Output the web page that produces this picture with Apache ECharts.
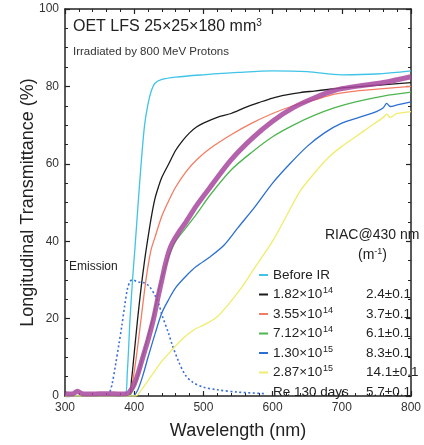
<!DOCTYPE html>
<html>
<head>
<meta charset="utf-8">
<script src="https://cdn.jsdelivr.net/npm/echarts@6/dist/echarts.min.js"></script>
<style>
html,body{margin:0;padding:0;background:#fff;}
#chart{width:424px;height:445px;}
</style>
</head>
<body>
<div id="chart"></div>
<script>
// ---- data: [wavelength (nm), transmittance (%)] ----
const beforeIR = [[300,0],[386,0],[390,6],[394,20],[398,31],[401,38],[405,48],[410,60],[415,70],[420,75.5],[425,79],[430,80.8],[440,81.8],[460,82.4],[500,83],[550,83.6],[600,84],[650,83.8],[700,83],[750,83.2],[800,84]];
const dose182e14 = [[300,0],[392,0],[396,4],[400,11],[405,20],[410,28],[415,35],[420,41],[425,46.5],[430,51],[435,54],[440,56.5],[450,60],[460,63.5],[470,66],[480,68],[490,69.5],[500,70.5],[520,72],[540,73],[560,74.5],[580,75.8],[600,77],[620,77.8],[640,78.4],[660,78.8],[680,79.2],[700,79.6],[750,80.3],[800,81]];
const dose355e14 = [[300,0],[392,0],[397,3],[403,10],[410,20],[417,30],[424,37.5],[430,41],[440,46.5],[450,50.5],[460,54],[475,58],[490,61],[510,64],[540,67.5],[570,70.5],[600,73],[630,75],[660,76.5],[690,78],[720,78.8],[760,79.4],[800,80]];
const dose712e14 = [[300,0],[392,0],[398,1.5],[405,5],[412,10],[420,15.5],[428,21],[435,27],[440,30.5],[450,36],[460,40],[475,43.5],[490,47],[510,52],[540,58.4],[570,63],[600,67],[630,70],[660,72.5],[690,74.5],[720,76],[760,77.5],[800,78.5]];
const dose130e15 = [[300,0],[398,0],[405,1.5],[412,5],[420,10],[430,16],[440,21.5],[450,25],[460,28],[475,31],[490,33.5],[510,36],[530,39],[550,43.5],[575,49],[600,55],[625,60],[650,64.5],[675,68],[700,70.5],[725,72],[750,73.5],[760,74.5],[765,75.6],[770,74.8],[780,75.2],[800,76]];
const dose287e15 = [[300,0],[402,0],[410,1.5],[420,4],[430,6.5],[440,9],[450,11],[460,13],[470,14.8],[480,16.3],[490,17.5],[500,18.3],[520,20.5],[540,24.5],[555,28],[570,32],[585,36],[600,40],[620,46.5],[640,53],[660,57.5],[680,61.5],[700,64.5],[720,67],[740,69.5],[760,72],[765,72.8],[770,72],[780,73],[800,73.5]];
const re130days = [[300,0.6],[310,0.5],[318,1.2],[325,0.6],[340,0.5],[360,0.6],[380,0.5],[390,0.6],[395,1.5],[400,3],[405,5.5],[410,8.5],[415,11.5],[420,14.5],[428,20],[435,26],[440,30],[445,34],[450,37.3],[455,39.5],[465,42.5],[475,45],[490,49.2],[510,54],[540,61],[570,66.5],[600,71],[630,74.5],[660,77],[690,79],[720,80],[760,81],[800,82.5]];
const emission = [[363,0],[368,3],[373,8],[378,13.5],[382,18],[386,23],[390,27.5],[394,29.6],[398,30],[405,29.5],[415,29.2],[422,28.3],[430,26],[436,23.5],[440,21],[450,16],[455,13.2],[464,9],[474,5.4],[485,3.5],[500,2.3],[520,1.6],[550,1],[590,0.6]];

// legend labels
const seriesNames = ['Before IR','1.82e14','3.55e14','7.12e14','1.30e15','2.87e15','Re 130 days'];
const legendMantissa = ['Before IR','1.82×10','3.55×10','7.12×10','1.30×10','2.87×10','Re 130 days'];
const legendExp = ['','14','14','14','15','15',''];
const riacValues = ['','2.4±0.1','3.7±0.1','6.1±0.1','8.3±0.1','14.1±0.1','5.7±0.1'];
const xTicks = [300,400,500,600,700,800];
const yTicks = [0,20,40,60,80,100];

const colors = {
  'Before IR':'#3fc3e6','1.82e14':'#1b1b1b','3.55e14':'#f47c63','7.12e14':'#4db64f',
  '1.30e15':'#2b6fd3','2.87e15':'#f0ec6c','Re 130 days':'#a8479f'
};
const dataMap = {
  'Before IR':beforeIR,'1.82e14':dose182e14,'3.55e14':dose355e14,'7.12e14':dose712e14,
  '1.30e15':dose130e15,'2.87e15':dose287e15,'Re 130 days':re130days
};

const font = 'Liberation Sans, Arial, Helvetica, sans-serif';
const chart = echarts.init(document.getElementById('chart'), null, {renderer:'canvas'});

const axisCommon = {
  axisLine:{show:true,onZero:false,lineStyle:{color:'#222',width:1.5}},
  axisTick:{show:true,inside:true,length:5,lineStyle:{color:'#222',width:1.2}},
  minorTick:{show:true,length:3,lineStyle:{color:'#222',width:1}},
  splitLine:{show:false}
};

const series = [{
  name:'Emission', type:'line', data:emission, showSymbol:false, smooth:0.3,
  lineStyle:{color:'#3a6fd8',width:1.6,type:[2,2.5]}, z:2
}];
const drawOrder = ['Before IR','1.82e14','3.55e14','7.12e14','1.30e15','2.87e15','Re 130 days'];
drawOrder.forEach(function(n){
  const thick = n === 'Re 130 days';
  series.push({
    name:n, type:'line', data:dataMap[n], showSymbol:false, smooth:0.3,
    color:colors[n],
    lineStyle:{color:colors[n], width: thick ? 5 : 1.3, opacity: thick ? 0.85 : 1},
    z: thick ? 5 : 3
  });
});

const option = {
  backgroundColor:'#fff',
  animation:false,
  grid:{left:65,right:9,top:9,bottom:49},
  xAxis:[Object.assign({}, axisCommon, {
    type:'value', min:300, max:800, interval:100, minorTick:Object.assign({},axisCommon.minorTick,{splitNumber:5}),
    axisTick:Object.assign({},axisCommon.axisTick),
    axisLabel:{color:'#333',fontSize:12,fontFamily:font,margin:6,
      formatter:function(v){return xTicks.indexOf(v)>=0?String(v):'';}},
    name:'Wavelength (nm)', nameLocation:'middle', nameGap:26, nameMoveOverlap:false,
    nameTextStyle:{fontSize:18,color:'#222',fontFamily:font}
  }), Object.assign({}, axisCommon, {
    type:'value', min:300, max:800, interval:100, position:'top',
    minorTick:Object.assign({},axisCommon.minorTick,{splitNumber:5}),
    axisLabel:{show:false}
  })],
  yAxis:[Object.assign({}, axisCommon, {
    type:'value', min:0, max:100, interval:20, minorTick:Object.assign({},axisCommon.minorTick,{splitNumber:4}),
    axisLabel:{color:'#333',fontSize:12,fontFamily:font,margin:6,
      formatter:function(v){return yTicks.indexOf(v)>=0?String(v):'';}},
    name:'Longitudinal Transmittance (%)', nameLocation:'middle', nameGap:28, nameMoveOverlap:false,
    nameTextStyle:{fontSize:18,color:'#222',fontFamily:font}
  }), Object.assign({}, axisCommon, {
    type:'value', min:0, max:100, interval:20, position:'right',
    minorTick:Object.assign({},axisCommon.minorTick,{splitNumber:4}),
    axisLabel:{show:false}
  })],
  legend:{
    orient:'vertical', left:254, top:262, itemWidth:9, itemHeight:2, itemGap:3.5,
    icon:'rect', selectedMode:false,
    data: seriesNames.map(function(n){ return n==='Re 130 days' ? {name:n, icon:'none'} : {name:n}; }),
    textStyle:{fontFamily:font,fontSize:13.5,color:'#222',lineHeight:16,
      rich:{
        n:{fontFamily:font,fontSize:13.5,color:'#222',width:50,lineHeight:16},
        w:{fontFamily:font,fontSize:13.5,color:'#222',width:93,lineHeight:16},
        s:{fontFamily:font,fontSize:9,color:'#222',width:43,verticalAlign:'top',lineHeight:12},
        v:{fontFamily:font,fontSize:13.5,color:'#222',lineHeight:16}
      }},
    formatter:function(name){
      const i = seriesNames.indexOf(name);
      if (legendExp[i]) return '{n|'+legendMantissa[i]+'}{s|'+legendExp[i]+'}{v|'+riacValues[i]+'}';
      if (riacValues[i]) return '{w|'+legendMantissa[i]+'}{v|'+riacValues[i]+'}';
      return '{v|'+legendMantissa[i]+'}';
    }
  },
  graphic:[
    {type:'text', left:73, top:18, style:{text:'{a|OET LFS 25×25×180 mm}{b|3}',
      rich:{a:{fontFamily:font,fontSize:16,fill:'#222',lineHeight:18},b:{fontFamily:font,fontSize:10,fill:'#222',verticalAlign:'top',lineHeight:12}}}},
    {type:'text', left:73, top:46, style:{text:'Irradiated by 800 MeV Protons',font:'11.5px '+font,fill:'#333'}},
    {type:'text', left:69, top:261, style:{text:'Emission',font:'12px '+font,fill:'#222'}},
    {type:'text', left:325, top:228, z:10, style:{text:'RIAC@430 nm',font:'14px '+font,fill:'#222'}},
    {type:'text', left:358, top:247, z:10, style:{text:'{a|(m}{b|-1}{a|)}',
      rich:{a:{fontFamily:font,fontSize:14,fill:'#222',lineHeight:16},b:{fontFamily:font,fontSize:9,fill:'#222',verticalAlign:'top',lineHeight:11}}}}
  ],
  series:series
};
chart.setOption(option);
</script>
</body>
</html>
